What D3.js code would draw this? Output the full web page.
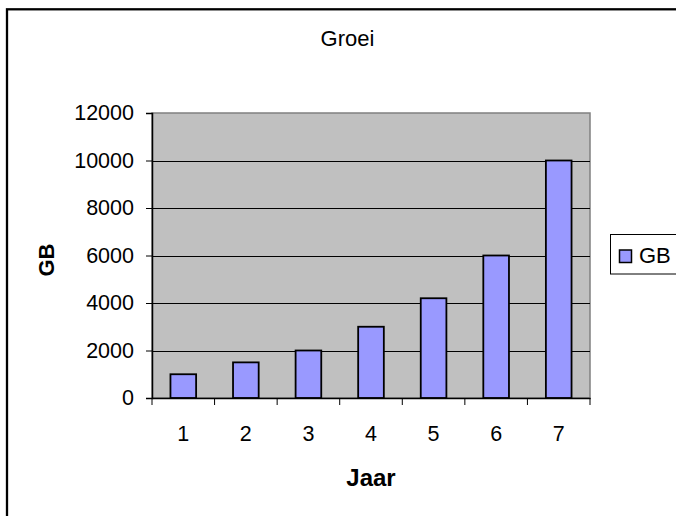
<!DOCTYPE html>
<html>
<head>
<meta charset="utf-8">
<script src="https://cdn.jsdelivr.net/npm/d3@7"></script>
<style>
  html, body { margin: 0; padding: 0; background: #fff; }
  svg { display: block; font-family: "Liberation Sans", Arial, sans-serif; }
</style>
</head>
<body>
<svg id="chart" width="676" height="516"></svg>
<script>
const categories = ["1", "2", "3", "4", "5", "6", "7"];
const gbValues = [1000, 1500, 2000, 3000, 4200, 6000, 10000];
const yTicks = [0, 2000, 4000, 6000, 8000, 10000, 12000];
const chartTitle = "Groei";
const xTitle = "Jaar";
const yTitle = "GB";
const seriesName = "GB";

const svg = d3.select("#chart");
const W = 676, H = 516;
const plot = { left: 152, right: 590, top: 113, bottom: 398 };

// outer chart frame (extends past right/bottom edges)
svg.append("rect")
  .attr("x", 7).attr("y", 9.3)
  .attr("width", W + 20).attr("height", H + 20)
  .attr("fill", "#fff").attr("stroke", "#000").attr("stroke-width", 2.3);

const x = d3.scaleBand()
  .domain(categories)
  .range([plot.left, plot.right])
  .paddingInner(0.59)
  .paddingOuter(0.295)
  .align(0.5);

const xCat = d3.scaleBand()
  .domain(categories)
  .range([plot.left, plot.right])
  .padding(0);

const y = d3.scaleLinear()
  .domain([0, 12000])
  .range([plot.bottom, plot.top]);

// plot area
svg.append("rect")
  .attr("x", plot.left).attr("y", plot.top)
  .attr("width", plot.right - plot.left).attr("height", plot.bottom - plot.top)
  .attr("fill", "#C0C0C0").attr("stroke", "#808080").attr("stroke-width", 1.5);

// gridlines
svg.append("g")
  .selectAll("line")
  .data(yTicks.filter(d => d > 0 && d < 12000))
  .join("line")
  .attr("x1", plot.left).attr("x2", plot.right)
  .attr("y1", d => Math.round(y(d)) + 0.5).attr("y2", d => Math.round(y(d)) + 0.5)
  .attr("stroke", "#000").attr("stroke-width", 1);

// bars
svg.append("g")
  .selectAll("rect")
  .data(gbValues)
  .join("rect")
  .attr("x", (d, i) => x(categories[i]))
  .attr("width", x.bandwidth())
  .attr("y", d => y(d))
  .attr("height", d => y(0) - y(d))
  .attr("fill", "#9999FF")
  .attr("stroke", "#000")
  .attr("stroke-width", 1.8);

// y axis
const yAxis = d3.axisLeft(y).tickValues(yTicks).tickSize(6).tickPadding(12).tickFormat(d3.format("d"));
const gy = svg.append("g").attr("transform", `translate(${plot.left},0)`).call(yAxis);
gy.select(".domain").attr("stroke", "#000").attr("stroke-width", 1.5);
gy.selectAll(".tick line").attr("stroke", "#000");
gy.selectAll(".tick text")
  .attr("font-size", 21.5).attr("fill", "#000")
  .attr("font-family", "'Liberation Sans', Arial, sans-serif");

// x axis
const xAxis = d3.axisBottom(xCat).tickSize(0).tickPadding(28);
const gx = svg.append("g").attr("transform", `translate(0,${plot.bottom})`).call(xAxis);
gx.select(".domain").attr("stroke", "#000").attr("stroke-width", 1.5);
gx.selectAll(".tick text")
  .attr("font-size", 21.5).attr("fill", "#000")
  .attr("font-family", "'Liberation Sans', Arial, sans-serif");
// category boundary ticks
const bounds = categories.map(c => xCat(c)).concat([plot.right]);
gx.selectAll(".bound")
  .data(bounds)
  .join("line")
  .attr("class", "bound")
  .attr("x1", d => d).attr("x2", d => d)
  .attr("y1", 0).attr("y2", 7)
  .attr("stroke", "#000").attr("stroke-width", 1);

// titles
svg.append("text")
  .attr("x", 347.5).attr("y", 46)
  .attr("text-anchor", "middle")
  .attr("font-size", 22).attr("fill", "#000")
  .text(chartTitle);

svg.append("text")
  .attr("x", 371).attr("y", 486)
  .attr("text-anchor", "middle")
  .attr("font-size", 24).attr("font-weight", "bold").attr("fill", "#000")
  .text(xTitle);

svg.append("text")
  .attr("transform", "translate(54,260) rotate(-90)")
  .attr("text-anchor", "middle")
  .attr("font-size", 22).attr("font-weight", "bold").attr("fill", "#000")
  .text(yTitle);

// legend
const lg = svg.append("g");
lg.append("rect")
  .attr("x", 610.5).attr("y", 234.5).attr("width", 80).attr("height", 39.5)
  .attr("fill", "#fff").attr("stroke", "#000").attr("stroke-width", 1);
lg.append("rect")
  .attr("x", 619.5).attr("y", 250).attr("width", 12).attr("height", 12.5)
  .attr("fill", "#9999FF").attr("stroke", "#000").attr("stroke-width", 1.5);
lg.append("text")
  .attr("x", 639).attr("y", 262.5)
  .attr("font-size", 22).attr("fill", "#000")
  .text(seriesName);
</script>
</body>
</html>
